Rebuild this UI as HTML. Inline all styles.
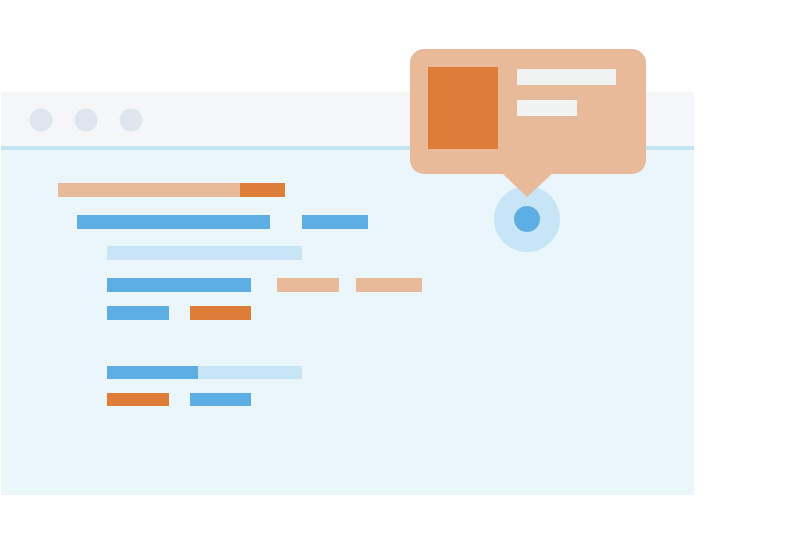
<!DOCTYPE html>
<html><head><meta charset="utf-8"><style>html,body{margin:0;padding:0;background:#fff;width:800px;height:533px;overflow:hidden}</style></head>
<body>
<svg width="800" height="533" viewBox="0 0 800 533" xmlns="http://www.w3.org/2000/svg">
<rect x="1" y="92" width="693" height="403" fill="#ebf6fb"/>
<rect x="1" y="92" width="693" height="54" fill="#f4f6f8"/>
<rect x="1" y="146" width="693" height="4" fill="#c7e4f3"/>
<circle cx="41" cy="120" r="11.5" fill="#dfe5ee"/>
<circle cx="86" cy="120" r="11.5" fill="#dfe5ee"/>
<circle cx="131" cy="120" r="11.5" fill="#dfe5ee"/>
<g>
<rect x="58" y="183" width="182" height="14" fill="#e8ba9a"/>
<rect x="240" y="183" width="45" height="14" fill="#de7d38"/>
<rect x="77" y="215" width="193" height="14" fill="#5daee2"/>
<rect x="302" y="215" width="66" height="14" fill="#5daee2"/>
<rect x="107" y="246" width="195" height="14" fill="#c7e5f5"/>
<rect x="107" y="278" width="144" height="14" fill="#5daee2"/>
<rect x="277" y="278" width="62" height="14" fill="#e8ba9a"/>
<rect x="356" y="278" width="66" height="14" fill="#e8ba9a"/>
<rect x="107" y="306" width="62" height="14" fill="#5daee2"/>
<rect x="190" y="306" width="61" height="14" fill="#de7d38"/>
<rect x="107" y="366" width="91" height="13" fill="#5daee2"/>
<rect x="198" y="366" width="104" height="13" fill="#c7e5f5"/>
<rect x="107" y="393" width="62" height="13" fill="#de7d38"/>
<rect x="190" y="393" width="61" height="13" fill="#5daee2"/>
</g>
<circle cx="527" cy="219" r="33" fill="#c7e5f5"/>
<circle cx="527" cy="219" r="13" fill="#5daee2"/>
<rect x="410" y="49" width="236" height="125" rx="14" fill="#e8ba9a"/>
<polygon points="502,173 553,173 527,197" fill="#e8ba9a"/>
<rect x="428" y="67" width="70" height="82" fill="#de7d38"/>
<rect x="517" y="69" width="99" height="16" fill="#f1f3f3"/>
<rect x="517" y="100" width="60" height="16" fill="#f1f3f3"/>
</svg>
</body></html>
